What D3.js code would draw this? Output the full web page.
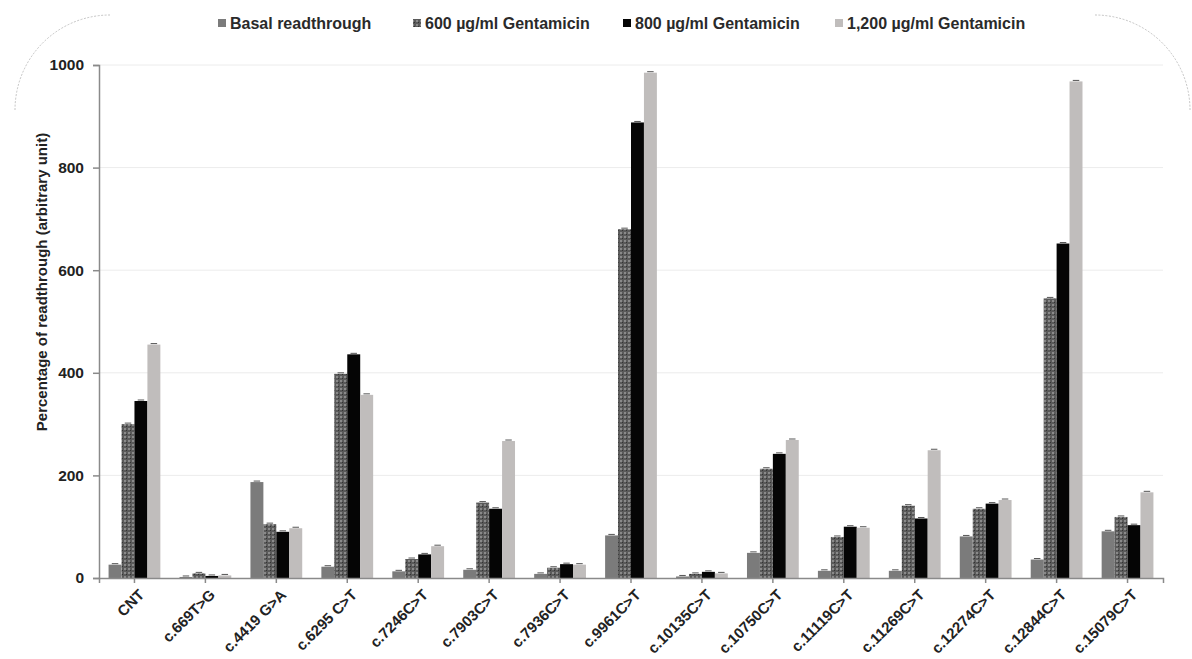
<!DOCTYPE html>
<html>
<head>
<meta charset="utf-8">
<script src="https://cdn.jsdelivr.net/npm/d3@7"></script>
<style>
  body { margin: 0; background: #fff; }
  svg { display: block; }
  text { font-family: "Liberation Sans", Arial, sans-serif; font-weight: bold; }
</style>
</head>
<body>
<svg id="svg1" width="1192" height="659"></svg>
<script>
// data
var categories = ["CNT", "c.669T>G", "c.4419 G>A", "c.6295 C>T", "c.7246C>T", "c.7903C>T", "c.7936C>T",
                  "c.9961C>T", "c.10135C>T", "c.10750C>T", "c.11119C>T", "c.11269C>T", "c.12274C>T",
                  "c.12844C>T", "c.15079C>T"];
var seriesNames = ["Basal readthrough", "600 \u00b5g/ml Gentamicin", "800 \u00b5g/ml Gentamicin", "1,200 \u00b5g/ml Gentamicin"];
var basal   = [26, 2, 187, 22, 13, 16, 8, 83, 3, 49, 14, 14, 81, 36, 91];
var gent600 = [300, 9, 105, 398, 37, 147, 20, 680, 8, 213, 80, 141, 135, 545, 119];
var gent800 = [345, 4, 90, 436, 46, 135, 27, 888, 12, 242, 100, 116, 145, 652, 103];
var gent1200 = [455, 5, 97, 357, 62, 267, 26, 985, 9, 269, 98, 249, 152, 968, 167];
var yTicks = [0, 200, 400, 600, 800, 1000];

var seriesValues = [basal, gent600, gent800, gent1200];

function draw(){
    var svg = d3.select("#svg1");
    var defs = svg.append("defs");

    // checkered texture for the 600 series
    var pat = defs.append("pattern")
        .attr("id", "check")
        .attr("patternUnits", "userSpaceOnUse")
        .attr("width", 4).attr("height", 4);
    pat.append("rect").attr("width", 4).attr("height", 4).attr("fill", "#5a5a5a");
    pat.append("rect").attr("width", 2).attr("height", 2).attr("fill", "#8a8a8a");
    pat.append("rect").attr("x", 2).attr("y", 2).attr("width", 1).attr("height", 1).attr("fill", "#333");

    var fills = ["#7b7b7b", "url(#check)", "#050505", "#c0bdbc"];

    // faint dashed rounded corners of the frame
    var corners = svg.append("g")
        .attr("fill", "none")
        .attr("stroke", "#aaa")
        .attr("stroke-width", 0.7)
        .attr("stroke-dasharray", "2,1.5");
    var p1 = d3.path();
    p1.arc(110, 110, 95, Math.PI, 1.5 * Math.PI);
    corners.append("path").attr("d", p1.toString());
    var p2 = d3.path();
    p2.arc(1095, 110, 95, 1.5 * Math.PI, 2 * Math.PI);
    corners.append("path").attr("d", p2.toString());

    var left = 99, right = 1163, top = 65, bottom = 578;

    var scaleY = d3.scaleLinear();
    scaleY.domain([0, 1000]);
    scaleY.range([bottom, top]);

    var scaleX = d3.scaleBand()
        .domain(categories)
        .range([left, right])
        .paddingInner(0.27)
        .paddingOuter(0.135);

    var scaleX1 = d3.scaleBand()
        .domain(d3.range(seriesNames.length))
        .range([0, scaleX.bandwidth()]);

    // grid
    svg.append("g").selectAll("line")
        .data(yTicks.slice(1))
        .join("line")
        .attr("x1", left).attr("x2", right)
        .attr("y1", function(d){ return scaleY(d); })
        .attr("y2", function(d){ return scaleY(d); })
        .attr("stroke", "#ececec")
        .attr("stroke-width", 1);

    // bars
    var gBars = svg.append("g");
    seriesValues.forEach(function(vals, s){
        var g = gBars.append("g");
        g.selectAll("rect")
            .data(vals)
            .join("rect")
            .attr("x", function(d, i){ return scaleX(categories[i]) + scaleX1(s); })
            .attr("y", function(d){ return scaleY(d); })
            .attr("width", scaleX1.bandwidth())
            .attr("height", function(d){ return scaleY(0) - scaleY(d); })
            .attr("fill", fills[s]);
        // small error caps
        g.selectAll("line")
            .data(vals)
            .join("line")
            .attr("x1", function(d, i){ return scaleX(categories[i]) + scaleX1(s) + scaleX1.bandwidth() * 0.25; })
            .attr("x2", function(d, i){ return scaleX(categories[i]) + scaleX1(s) + scaleX1.bandwidth() * 0.75; })
            .attr("y1", function(d){ return scaleY(d) - 1; })
            .attr("y2", function(d){ return scaleY(d) - 1; })
            .attr("stroke", "#555")
            .attr("stroke-width", 1);
    });

    // Y axis
    var axisY = d3.axisLeft(scaleY).tickValues(yTicks).tickFormat(d3.format("d")).tickSize(6).tickPadding(9);
    var gAxisY = svg.append("g").attr("transform", "translate(" + left + ",0)");
    gAxisY.call(axisY);
    gAxisY.attr("font-size", 15.5).attr("font-family", null);
    gAxisY.select(".domain").attr("stroke", "#8a8a8a").attr("stroke-width", 1.5);
    gAxisY.selectAll(".tick line").attr("stroke", "#8a8a8a").attr("stroke-width", 1.5);
    gAxisY.selectAll(".tick text").attr("fill", "#222");

    // X axis, labels slanted 45 degrees
    var axisX = d3.axisBottom(scaleX).tickSize(5).tickSizeOuter(5);
    var gAxisX = svg.append("g").attr("transform", "translate(0," + bottom + ")");
    gAxisX.call(axisX);
    gAxisX.attr("font-size", 15).attr("font-family", null);
    gAxisX.select(".domain").attr("stroke", "#8a8a8a").attr("stroke-width", 1.5);
    gAxisX.selectAll(".tick line").attr("stroke", "#8a8a8a").attr("stroke-width", 1.5);
    gAxisX.selectAll(".tick text")
        .attr("fill", "#222")
        .attr("x", 0).attr("y", 0)
        .attr("dy", "0.35em")
        .style("text-anchor", "end")
        .attr("transform", "translate(7,14) rotate(-45)");

    // Y title
    svg.append("text")
        .attr("transform", "translate(47,282) rotate(-90)")
        .attr("text-anchor", "middle")
        .attr("font-size", 15)
        .attr("fill", "#222")
        .text("Percentage of readthrough (arbitrary unit)");

    // legend
    var legendX = [218, 413, 623, 835];
    var gLeg = svg.append("g");
    seriesNames.forEach(function(name, s){
        gLeg.append("rect")
            .attr("x", legendX[s]).attr("y", 19)
            .attr("width", 8).attr("height", 8)
            .attr("fill", fills[s]);
        gLeg.append("text")
            .attr("x", legendX[s] + 12).attr("y", 29)
            .attr("font-size", 16)
            .attr("fill", "#2a2a2a")
            .text(name);
    });
}
draw();
</script>
</body>
</html>
